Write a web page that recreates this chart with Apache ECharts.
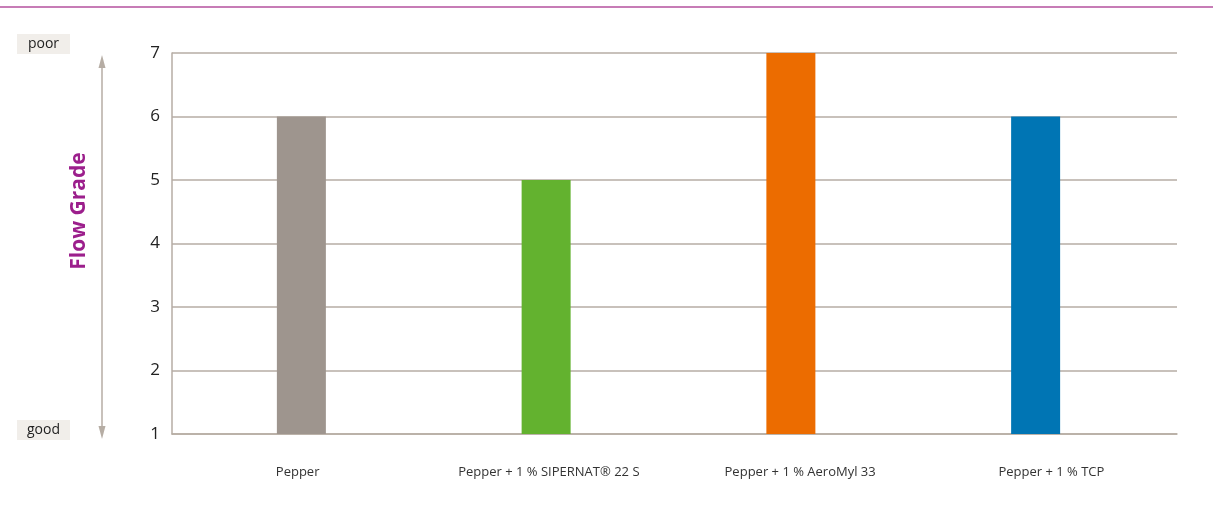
<!DOCTYPE html>
<html><head><meta charset="utf-8">
<script src="https://cdn.jsdelivr.net/npm/echarts@6/dist/echarts.min.js"></script>
<style>html,body{margin:0;padding:0;background:#fff}#c{width:1213px;height:524px}</style>
</head><body><div id="c"></div>
<script>
const categories = ['Pepper', 'Pepper + 1 % SIPERNAT® 22 S', 'Pepper + 1 % AeroMyl 33', 'Pepper + 1 % TCP'];
const flowGrade = [6, 5, 7, 6];
const barColors = ['#9e958e', '#63b22f', '#ec6c00', '#0075b4'];
const yTicks = [1, 2, 3, 4, 5, 6, 7];
const axisTitle = 'Flow Grade';
const topLabel = 'poor';
const bottomLabel = 'good';

const chart = echarts.init(document.getElementById('c'));
const font = '"Open Sans", "Noto Sans", sans-serif';
const lineCol = '#b6ada4';
chart.setOption({
  animation: false,
  grid: [
    {left: 172, right: 36, top: 53, bottom: 90},
    {left: 179, right: 55, top: 53, bottom: 90}
  ],
  xAxis: [
    {type: 'category', gridIndex: 0, data: categories,
     axisLine: {lineStyle: {color: lineCol, width: 1.5}}, axisTick: {show: false},
     axisLabel: {color: '#333', fontSize: 13, fontFamily: font, margin: 32}},
    {type: 'category', gridIndex: 1, data: categories, show: false}
  ],
  yAxis: [
    {type: 'value', gridIndex: 0, min: yTicks[0], max: yTicks[yTicks.length-1], interval: 1,
     axisLine: {show: true, lineStyle: {color: lineCol, width: 1.5}}, axisTick: {show: false},
     splitLine: {lineStyle: {color: lineCol, width: 1.5}},
     axisLabel: {color: '#222', fontSize: 17, fontFamily: font, margin: 12}},
    {type: 'value', gridIndex: 1, min: yTicks[0], max: yTicks[yTicks.length-1], interval: 1, show: false}
  ],
  series: [{
    type: 'bar', xAxisIndex: 1, yAxisIndex: 1, barWidth: 49,
    data: flowGrade.map((v, i) => ({value: v, itemStyle: {color: barColors[i]}}))
  }],
  graphic: [
    {type: 'line', shape: {x1: 0, y1: 7, x2: 1213, y2: 7}, style: {stroke: '#b4519e', lineWidth: 1.5}},
    {type: 'rect', shape: {x: 17, y: 34, width: 53, height: 20}, style: {fill: '#f1eeea'}},
    {type: 'text', x: 43.5, y: 44, style: {text: topLabel, fill: '#222', font: '14px ' + font, align: 'center', verticalAlign: 'middle'}},
    {type: 'rect', shape: {x: 17, y: 420, width: 53, height: 20}, style: {fill: '#f1eeea'}},
    {type: 'text', x: 43.5, y: 430, style: {text: bottomLabel, fill: '#222', font: '14px ' + font, align: 'center', verticalAlign: 'middle'}},
    {type: 'line', shape: {x1: 102, y1: 62, x2: 102, y2: 432}, style: {stroke: lineCol, lineWidth: 1.5}},
    {type: 'polygon', shape: {points: [[102, 55], [98.5, 68], [105.5, 68]]}, style: {fill: lineCol}},
    {type: 'polygon', shape: {points: [[102, 439], [98.5, 426], [105.5, 426]]}, style: {fill: lineCol}},
    {type: 'text', x: 79, y: 211, rotation: Math.PI / 2,
     style: {text: axisTitle, fill: '#9c1f8c', font: 'bold 21px ' + font, align: 'center', verticalAlign: 'middle'}}
  ]
});
</script></body></html>
